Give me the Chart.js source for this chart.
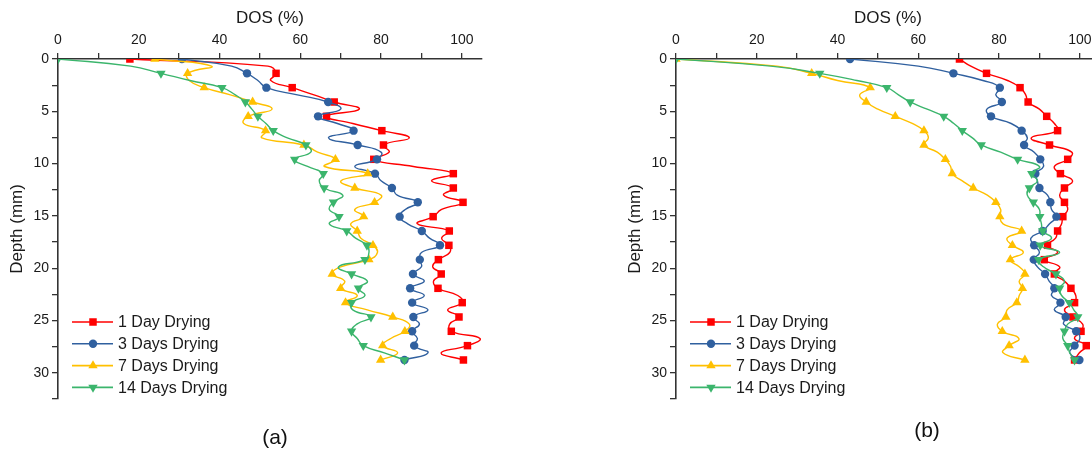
<!DOCTYPE html>
<html>
<head>
<meta charset="utf-8">
<script src="https://cdn.jsdelivr.net/npm/chart.js@4.4.1/dist/chart.umd.min.js"></script>
<style>
  html, body { margin: 0; padding: 0; background: #fff; overflow: hidden; width: 1092px; height: 453px; }
  #wrap { position: relative; width: 1092px; height: 453px; overflow: hidden; }
  canvas { position: absolute; top: 0; }
  #graficoA { left: 0; }
  #graficoB { left: 618px; }
  .panel { position: absolute; font-family: 'Liberation Sans', Arial, sans-serif; font-size: 21px; color: #111; transform: translate(-50%, -50%); }
</style>
</head>
<body>
<div id="wrap">
  <canvas id="graficoA" width="546" height="453"></canvas>
  <canvas id="graficoB" width="546" height="453"></canvas>
  <div class="panel" style="left:275px; top:437px;">(a)</div>
  <div class="panel" style="left:927px; top:430px;">(b)</div>
</div>
<script>
// profundidad (mm) de cada lectura; los marcadores van en los índices pares
var depth = [0, 0.685, 1.37, 2.055, 2.74, 3.425, 4.11, 4.795, 5.48, 6.165, 6.85, 7.535, 8.22, 8.905,
  9.59, 10.275, 10.96, 11.645, 12.33, 13.015, 13.7, 14.385, 15.07, 15.755, 16.44, 17.125, 17.81,
  18.495, 19.18, 19.865, 20.55, 21.235, 21.92, 22.605, 23.29, 23.975, 24.66, 25.345, 26.03,
  26.715, 27.4, 28.085, 28.77];

var seriesNames = ['1 Day Drying', '3 Days Drying', '7 Days Drying', '14 Days Drying'];

var dosTicks = [0, 20, 40, 60, 80, 100];
var depthTicks = [0, 5, 10, 15, 20, 25, 30];

// Panel (a)
var dosA1 = [17.8, 52, 54.0, 52.7, 58.0, 63.4, 68.4, 74.6, 66.5, 73, 80.2, 87, 80.6, 82, 78.2, 88,
  97.9, 92.5, 97.9, 95.5, 100.3, 95, 92.9, 89, 96.9, 95, 96.8, 97, 94.2, 92.8, 94.9, 93, 94.1, 99,
  100.1, 96.5, 99.3, 97, 97.4, 104.5, 101.4, 94.9, 100.4];
var dosA3 = [30.7, 43, 46.8, 49.5, 51.6, 59.3, 66.9, 70, 64.4, 69.2, 73.2, 67, 74.2, 80, 79.0, 73.5,
  78.5, 80, 82.7, 84, 89.1, 86, 84.6, 86.6, 90.1, 92, 94.6, 90, 89.6, 90, 87.9, 90.7, 87.2, 90.7,
  87.7, 91.6, 88.0, 89.5, 87.7, 89, 88.2, 91.6, 85.8];
var dosA7 = [24.0, 38, 32.1, 32.5, 36.2, 42.7, 48.2, 53, 47.1, 46, 51.4, 50.5, 60.9, 64.3, 68.7, 66,
  76.7, 70.1, 73.5, 80, 78.4, 73.5, 75.7, 72.5, 74.1, 75, 78, 79.1, 77, 70, 67.9, 71, 70.0, 74.1,
  71.2, 76.6, 82.9, 87, 85.9, 82.4, 80.4, 84.1, 79.9];
var dosA14 = [0, 18, 25.5, 32.7, 40.6, 43.9, 46.4, 48, 49.5, 51.5, 53.3, 56.8, 61.4, 62.6, 58.6, 61.8,
  65.7, 64.7, 65.9, 70.5, 68.2, 67.2, 69.6, 67.2, 71.5, 73.7, 76.5, 77, 76.0, 69.5, 72.7, 76.6,
  74.4, 76, 72.7, 73, 77.5, 74, 72.7, 74.1, 75.6, 80.8, 85.8];

// Panel (b)
var dosB1 = [70.2, 73, 76.9, 82.1, 85.2, 86.6, 87.2, 90, 91.8, 93.7, 94.5, 88, 92.5, 98, 97.0, 93.7,
  95.2, 98.2, 96.2, 95, 96.2, 97, 95.8, 95.5, 94.5, 94, 92.0, 94.5, 91.2, 95, 93.7, 96.2, 97.8, 99,
  98.7, 96.2, 98.3, 100.7, 100.3, 98.7, 101.6, 99.9, 98.7];
var dosB3 = [43.1, 60, 68.7, 76, 80.2, 79.2, 80.7, 77, 78.0, 83, 85.6, 87, 86.2, 88.7, 90.2, 91, 89,
  89.5, 90.0, 92, 92.7, 93, 94.2, 92.5, 90.8, 87.9, 88.7, 90, 88.6, 89.5, 91.4, 92.4, 93.7, 93,
  95.2, 93.7, 96.5, 96, 99.1, 100, 98.7, 97.5, 99.9];
var dosB7 = [0, 25, 33.6, 40, 48.1, 45.5, 47.1, 50, 54.3, 58.5, 61.4, 62.5, 61.4, 64.7, 66.7, 68,
  68.4, 70.9, 73.6, 77.1, 79.2, 80.4, 80.2, 81, 85.6, 82, 83.3, 86, 82.8, 85, 86.4, 85, 85.8, 85,
  84.4, 82, 81.7, 79.6, 80.8, 84.9, 82.5, 81, 86.4];
var dosB14 = [0, 23.5, 35.6, 44.8, 52.2, 55.1, 58.0, 62.2, 66.3, 68.8, 70.9, 73.4, 75.6, 80.4, 84.6,
  90, 88.1, 89.5, 87.5, 87, 88.5, 90, 90.1, 90.5, 90.8, 93, 90.2, 95, 89.8, 91, 94.1, 96.2, 95.0,
  95.5, 97.4, 98.5, 99.5, 97, 96.2, 95.8, 97.0, 97.5, 98.7];

var colores = ['#FF0000', '#30609F', '#FFC000', '#3BB56C'];
var formas = ['rect', 'circle', 'triangle', 'triangle'];
var giros = [0, 0, 0, 180];
var radios = [5.3, 4.2, 5.4, 5.4];

var fuente = "'Liberation Sans', Arial, sans-serif";

function armarDatasets(listas) {
    return listas.map(function (valores, i) {
        return {
            label: seriesNames[i],
            data: valores.map(function (v, j) { return { x: v, y: depth[j] }; }),
            borderColor: colores[i],
            backgroundColor: colores[i],
            pointBackgroundColor: colores[i],
            pointBorderColor: colores[i],
            pointBorderWidth: 0,
            pointStyle: formas[i],
            pointRotation: giros[i],
            pointRadius: function (c) { return c.dataIndex % 2 === 0 ? radios[i] : 0; },
            borderWidth: 1.4,
            tension: 0.5,
            order: 3 - i,
            legendRadius: radios[i]
        };
    });
}

// leyenda dibujada dentro del área del gráfico, abajo a la izquierda
var leyendaInterna = {
    id: 'leyendaInterna',
    afterDatasetsDraw: function (chart) {
        var ctx = chart.ctx, area = chart.chartArea;
        ctx.save();
        chart.data.datasets.forEach(function (ds, i) {
            var y = area.top + 263 + i * 21.8;
            var x = area.left + 14;
            ctx.strokeStyle = ds.borderColor;
            ctx.lineWidth = 1.6;
            ctx.beginPath();
            ctx.moveTo(x, y);
            ctx.lineTo(x + 41, y);
            ctx.stroke();
            ctx.fillStyle = ds.borderColor;
            Chart.helpers.drawPoint(ctx, { pointStyle: ds.pointStyle, rotation: ds.pointRotation, radius: ds.legendRadius, borderWidth: 0 }, x + 21, y);
            ctx.fillStyle = '#1a1a1a';
            ctx.font = '16px ' + fuente;
            ctx.textBaseline = 'middle';
            ctx.textAlign = 'left';
            ctx.fillText(ds.label, x + 46, y + 1);
        });
        ctx.restore();
    }
};

function crearGrafico(id, listas) {
    var ctx = document.getElementById(id).getContext('2d');
    return new Chart(ctx, {
        type: 'line',
        data: { datasets: armarDatasets(listas) },
        plugins: [leyendaInterna],
        options: {
            responsive: false,
            animation: false,
            layout: { padding: { left: 0, top: 0, right: 64, bottom: 54 } },
            plugins: { legend: { display: false }, tooltip: { enabled: false } },
            scales: {
                x: {
                    type: 'linear',
                    position: 'top',
                    min: 0,
                    max: 105,
                    afterFit: function (s) { s.height = 59; },
                    ticks: {
                        stepSize: 10,
                        includeBounds: false,
                        autoSkip: false,
                        maxRotation: 0,
                        padding: 4,
                        color: '#1a1a1a',
                        font: { family: fuente, size: 14 },
                        callback: function (v) { return dosTicks.indexOf(v) >= 0 ? v : ''; }
                    },
                    grid: { drawOnChartArea: false, tickLength: 6, color: '#333', lineWidth: 1.3 },
                    border: { display: true, color: '#333', width: 1.6 },
                    title: { display: true, text: 'DOS (%)', color: '#1a1a1a', font: { family: fuente, size: 17 }, padding: { top: 8, bottom: 0 } }
                },
                y: {
                    type: 'linear',
                    position: 'left',
                    reverse: true,
                    min: 0,
                    max: 32.5,
                    afterFit: function (s) { s.width = 58; },
                    ticks: {
                        stepSize: 2.5,
                        autoSkip: false,
                        padding: 3,
                        color: '#1a1a1a',
                        font: { family: fuente, size: 14 },
                        callback: function (v) { return depthTicks.indexOf(v) >= 0 ? v : ''; }
                    },
                    grid: { drawOnChartArea: false, tickLength: 6, color: '#333', lineWidth: 1.3 },
                    border: { display: true, color: '#333', width: 1.6 },
                    title: { display: true, text: 'Depth (mm)', color: '#1a1a1a', font: { family: fuente, size: 17 }, padding: { top: 7, bottom: 0 } }
                }
            }
        }
    });
}

document.addEventListener('DOMContentLoaded', function () {
    crearGrafico('graficoA', [dosA1, dosA3, dosA7, dosA14]);
    crearGrafico('graficoB', [dosB1, dosB3, dosB7, dosB14]);
});
</script>
</body>
</html>
